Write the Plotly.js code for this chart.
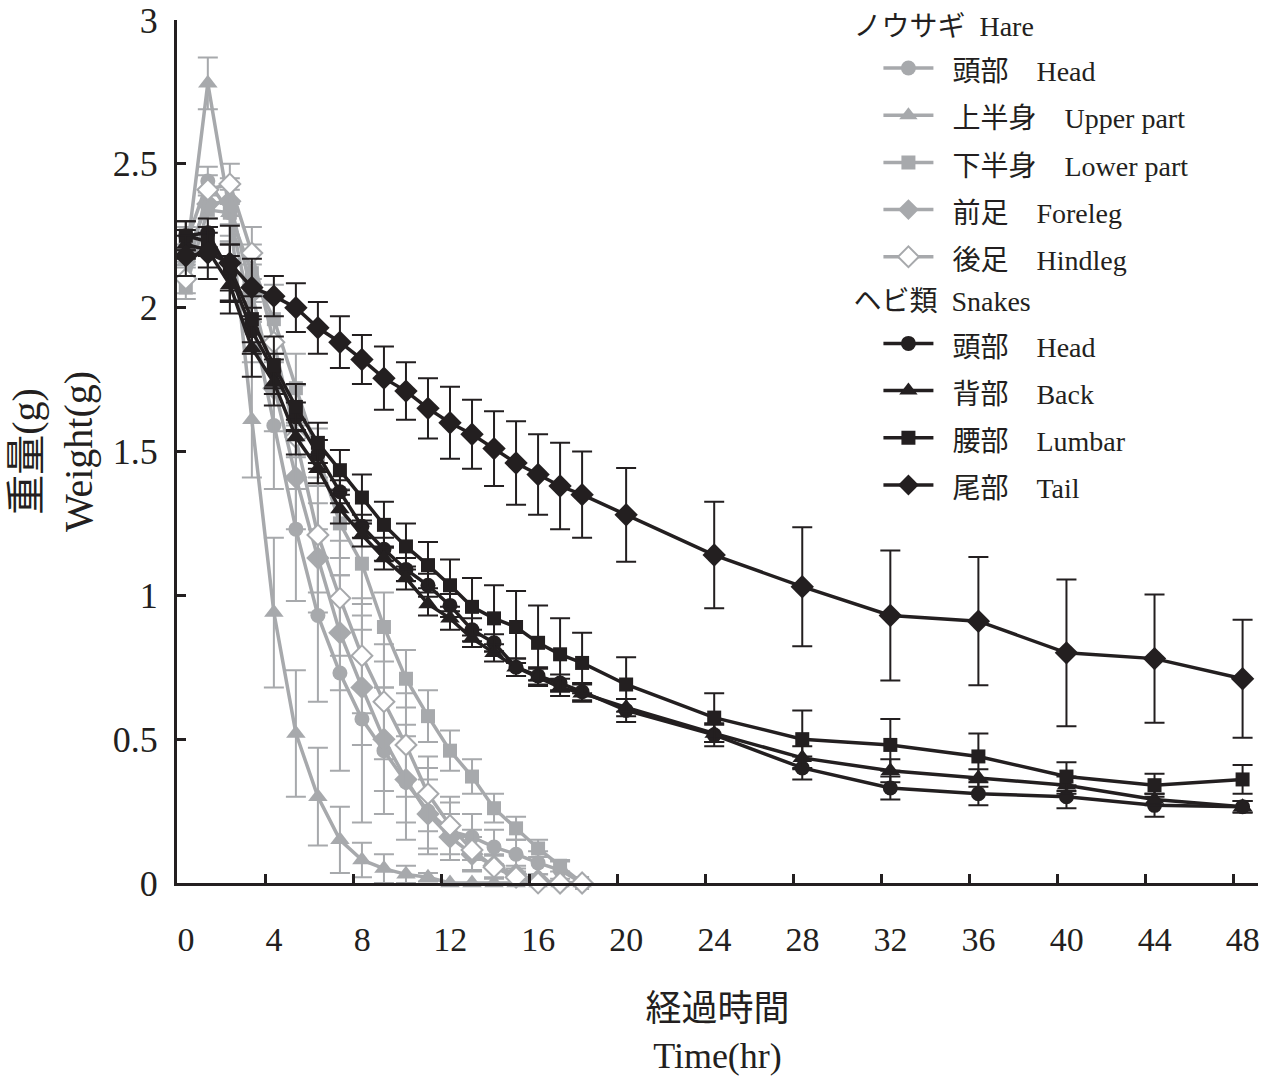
<!DOCTYPE html>
<html>
<head>
<meta charset="utf-8">
<script src="https://cdn.plot.ly/plotly-3.0.1.min.js"></script>
<style>
  html, body { margin: 0; padding: 0; background: #fff; }
  #chart { width: 1272px; height: 1081px; }
</style>
</head>
<body>
<div id="chart"></div>
<script>
// ---- data ----
const hareHours = [0,1,2,3,4,5,6,7,8,9,10,11,12,13,14,15,16,17,18];
const snakeHours = [0,1,2,3,4,5,6,7,8,9,10,11,12,13,14,15,16,17,18,20,24,28,32,36,40,44,48];
const xTickLabels = [0,4,8,12,16,20,24,28,32,36,40,44,48];
const yTickLabels = [0,0.5,1,1.5,2,2.5,3];

const hareHead      = [2.22,2.44,2.33,1.96,1.59,1.23,0.93,0.73,0.57,0.46,0.35,0.25,0.18,0.16,0.125,0.10,0.07,0.045,0.0];
const hareHeadErr   = [0.06,0.05,0.10,0.12,0.22,0.25,0.30,0.34,0.36,0.22,0.20,0.15,0.10,0.08,0.06,0.05,0.04,0.03,0.0];
const hareUpper     = [2.16,2.78,2.33,1.61,0.94,0.52,0.30,0.15,0.08,0.05,0.03,0.02,0.0,0.0,0.0,0.0,0.0,0.0,0.0];
const hareUpperErr  = [0.05,0.09,0.10,0.20,0.26,0.22,0.17,0.115,0.06,0.05,0.03,0.015,0,0,0,0,0,0,0];
const hareLower     = [2.07,2.34,2.33,2.12,1.96,1.72,1.48,1.25,1.11,0.89,0.71,0.58,0.46,0.37,0.26,0.19,0.12,0.06,0.0];
const hareLowerErr  = [0.04,0.06,0.08,0.10,0.12,0.12,0.10,0.12,0.14,0.12,0.10,0.09,0.07,0.06,0.05,0.04,0.03,0.02,0.0];
const hareFore      = [2.18,2.36,2.37,2.05,1.72,1.41,1.13,0.87,0.68,0.50,0.36,0.24,0.16,0.10,0.06,0.03,0.01,0.0,0.0];
const hareForeErr   = [0.04,0.05,0.08,0.10,0.15,0.18,0.19,0.20,0.20,0.18,0.15,0.12,0.08,0.06,0.04,0.03,0.02,0.0,0.0];
const hareHind      = [2.10,2.41,2.43,2.19,1.88,1.55,1.21,0.99,0.79,0.63,0.48,0.31,0.20,0.115,0.055,0.02,0.0,0.0,0.0];
const hareHindErr   = [0.05,0.05,0.07,0.09,0.15,0.18,0.20,0.20,0.20,0.20,0.18,0.13,0.10,0.07,0.04,0.02,0.0,0.0,0.0];

const snakeHead     = [2.25,2.26,2.12,1.92,1.78,1.62,1.49,1.36,1.24,1.16,1.09,1.035,0.965,0.88,0.835,0.75,0.72,0.695,0.665,0.60,0.515,0.40,0.33,0.31,0.30,0.27,0.265];
const snakeHeadErr  = [0.05,0.05,0.10,0.08,0.06,0.05,0.05,0.04,0.04,0.04,0.04,0.04,0.04,0.04,0.03,0.03,0.03,0.03,0.03,0.04,0.04,0.04,0.04,0.04,0.04,0.04,0.02];
const snakeBack     = [2.22,2.20,2.08,1.86,1.74,1.55,1.44,1.30,1.21,1.13,1.06,0.97,0.92,0.85,0.80,0.75,0.715,0.68,0.66,0.61,0.52,0.435,0.39,0.365,0.34,0.29,0.265];
const snakeBackErr  = [0.05,0.06,0.10,0.10,0.08,0.06,0.05,0.05,0.04,0.04,0.04,0.04,0.04,0.03,0.03,0.03,0.03,0.03,0.03,0.03,0.03,0.04,0.04,0.03,0.03,0.02,0.02];
const snakeLumbar   = [2.25,2.23,2.14,1.96,1.80,1.655,1.53,1.435,1.34,1.245,1.17,1.105,1.035,0.96,0.92,0.89,0.835,0.795,0.765,0.69,0.575,0.50,0.48,0.44,0.37,0.34,0.36];
const snakeLumbarErr= [0.05,0.05,0.08,0.08,0.10,0.08,0.07,0.07,0.08,0.08,0.08,0.08,0.09,0.10,0.115,0.125,0.13,0.125,0.105,0.095,0.085,0.10,0.09,0.08,0.05,0.04,0.05];
const snakeTail     = [2.18,2.19,2.155,2.07,2.04,2.00,1.93,1.88,1.82,1.755,1.71,1.65,1.60,1.56,1.51,1.46,1.42,1.38,1.35,1.28,1.14,1.03,0.93,0.91,0.80,0.78,0.71];
const snakeTailErr  = [0.07,0.09,0.13,0.10,0.07,0.085,0.09,0.09,0.085,0.11,0.10,0.105,0.125,0.12,0.13,0.145,0.14,0.15,0.15,0.163,0.185,0.207,0.226,0.223,0.255,0.223,0.205];

// ---- styles ----
const GRAY = '#a7a9ac';
const BLACK = '#231f20';
const FONT = '"Liberation Serif", "Times New Roman", "Noto Sans CJK JP", serif';
const legendName = t => '<span style="font-size:28px">\u2002' + t + '</span>';

function mk(x, y, err, name, color, symbol, size, group, groupTitle, open) {
  return {
    type: 'scatter', mode: 'lines+markers', x: x, y: y,
    name: legendName(name),
    legendgroup: group,
    legendgrouptitle: { text: groupTitle, font: { size: 28, color: BLACK, family: FONT } },
    cliponaxis: false,
    line: { color: color, width: 3.5 },
    marker: open
      ? { symbol: symbol, size: size, color: '#ffffff', line: { color: color, width: 2 } }
      : { symbol: symbol, size: size, color: color, line: { width: 0 } },
    error_y: { type: 'data', array: err, visible: true, color: color, thickness: 2, width: 10 }
  };
}

const HT = 'ノウサギ\u2002Hare';
const ST = 'ヘビ類\u2002Snakes';
const traces = [
  mk(hareHours, hareHead,  hareHeadErr,  '頭部　Head',       GRAY, 'circle',      15, 'hare', HT, false),
  mk(hareHours, hareUpper, hareUpperErr, '上半身　Upper part', GRAY, 'triangle-up', 17, 'hare', HT, false),
  mk(hareHours, hareLower, hareLowerErr, '下半身　Lower part', GRAY, 'square',      14, 'hare', HT, false),
  mk(hareHours, hareFore,  hareForeErr,  '前足　Foreleg',    GRAY, 'diamond',     18, 'hare', HT, false),
  mk(hareHours, hareHind,  hareHindErr,  '後足　Hindleg',    GRAY, 'diamond',     16, 'hare', HT, true),
  mk(snakeHours, snakeHead,   snakeHeadErr,   '頭部　Head',   BLACK, 'circle',      15, 'snake', ST, false),
  mk(snakeHours, snakeBack,   snakeBackErr,   '背部　Back',   BLACK, 'triangle-up', 17, 'snake', ST, false),
  mk(snakeHours, snakeLumbar, snakeLumbarErr, '腰部　Lumbar', BLACK, 'square',      14, 'snake', ST, false),
  mk(snakeHours, snakeTail,   snakeTailErr,   '尾部　Tail',   BLACK, 'diamond',     18, 'snake', ST, false)
];

const layout = {
  width: 1272, height: 1081,
  margin: { l: 177, r: 14, t: 20, b: 198, autoexpand: false },
  paper_bgcolor: '#ffffff', plot_bgcolor: '#ffffff',
  font: { family: FONT, color: BLACK, size: 34 },
  showlegend: true,
  legend: {
    xref: 'container', yref: 'container',
    x: 0.667, y: 1.0, xanchor: 'left', yanchor: 'top',
    bgcolor: 'rgba(0,0,0,0)',
    font: { family: FONT, size: 34, color: BLACK },
    traceorder: 'grouped', tracegroupgap: 0, itemwidth: 50, indentation: 30
  },
  xaxis: {
    range: [-0.4, 48.7],
    tickmode: 'array',
    tickvals: xTickLabels.map(v => v - 0.4),
    ticktext: xTickLabels.map(String),
    ticklabelshift: 9,
    ticklabelstandoff: 24,
    ticks: 'inside', ticklen: 9, tickwidth: 3, tickcolor: BLACK,
    showline: true, linecolor: BLACK, linewidth: 3,
    showgrid: false, zeroline: false,
    tickfont: { family: FONT, size: 34, color: BLACK },
    title: { text: '経過時間<br>Time(hr)', font: { family: FONT, size: 36, color: BLACK }, standoff: 40 }
  },
  yaxis: {
    range: [0, 3],
    tickmode: 'array',
    tickvals: yTickLabels,
    ticktext: yTickLabels.map(String),
    ticks: 'inside', ticklen: 9, tickwidth: 3, tickcolor: BLACK,
    ticklabelstandoff: 9,
    showline: true, linecolor: BLACK, linewidth: 3,
    showgrid: false, zeroline: false,
    tickfont: { family: FONT, size: 36, color: BLACK },
    title: { text: '重量(g)<br>Weight(g)', font: { family: FONT, size: 40, color: BLACK }, standoff: 8 }
  }
};

Plotly.newPlot('chart', traces, layout, { displayModeBar: false, staticPlot: true });
</script>
</body>
</html>
